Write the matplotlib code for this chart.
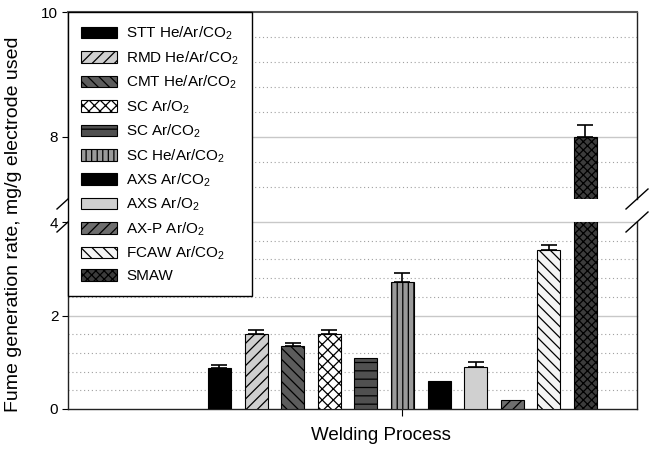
import numpy as np
import matplotlib
matplotlib.use("Agg")
import matplotlib.pyplot as plt
from matplotlib.lines import Line2D

plt.rcParams['font.family'] = ['Liberation Sans', 'DejaVu Sans']
plt.rcParams['mathtext.fontset'] = 'custom'
plt.rcParams['mathtext.rm'] = 'Liberation Sans'
plt.rcParams['mathtext.it'] = 'Liberation Sans:italic'
plt.rcParams['hatch.linewidth'] = 0.9

categories = ["STT He/Ar/CO$_2$", "RMD He/Ar/CO$_2$", "CMT He/Ar/CO$_2$", "SC Ar/O$_2$",
              "SC Ar/CO$_2$", "SC He/Ar/CO$_2$", "AXS Ar/CO$_2$", "AXS Ar/O$_2$",
              "AX-P Ar/O$_2$", "FCAW Ar/CO$_2$", "SMAW"]
values = [0.87, 1.60, 1.35, 1.60, 1.10, 2.71, 0.60, 0.90, 0.20, 3.41, 8.00]
errors = [0.07, 0.10, 0.07, 0.10, 0.0, 0.20, 0.0, 0.11, 0.0, 0.10, 0.19]

colors = ['#000000', '#cfcfcf', '#5c5c5c', '#ffffff', '#505050', '#9a9a9a',
          '#000000', '#d0d0d0', '#6e6e6e', '#f4f4f4', '#3c3c3c']
hatches = [None, '///', '\\\\\\', 'xxx', '--', '|||', None, None, '///', '\\\\\\', 'xxxx']

W, H = 653, 449
fig = plt.figure(figsize=(W / 100, H / 100), dpi=100)

def px(x0, y0, x1, y1):
    return [x0 / W, 1 - y1 / H, (x1 - x0) / W, (y1 - y0) / H]

ax_top = fig.add_axes(px(68, 12, 637, 199))
ax_bot = fig.add_axes(px(68, 222, 637, 409))

x = np.arange(len(values))
width = 0.63
xlim = (-4.14, 11.41)

handles = []
for ax in (ax_top, ax_bot):
    bars = ax.bar(x, values, width=width, color=colors, edgecolor='black',
                  linewidth=0.8, zorder=3)
    for b, h in zip(bars, hatches):
        if h:
            b.set_hatch(h)
    handles = bars
    idx = [i for i, e in enumerate(errors) if e > 0]
    ax.errorbar(x[idx], np.array(values)[idx],
                yerr=[np.zeros(len(idx)), np.array(errors)[idx]],
                fmt='none', ecolor='black', elinewidth=1.2, capsize=5.5,
                capthick=1.2, zorder=4)
    ax.set_xlim(*xlim)
    for s in ax.spines.values():
        s.set_color('#222222')
        s.set_linewidth(1.0)

# Upper axis
ax_top.set_ylim(7, 10)
ax_top.set_yticks([8, 10])
ax_top.spines['bottom'].set_visible(False)
ax_top.spines['top'].set_color('#555555')
ax_top.spines['top'].set_linewidth(1.5)
ax_top.tick_params(axis='x', bottom=False, labelbottom=False)
for v in [8]:
    ax_top.axhline(v, color='#c8c8c8', lw=1.0, zorder=1)
for v in [7.2, 7.6, 8.4, 8.8, 9.2, 9.6]:
    ax_top.axhline(v, color='#a0a0a0', lw=0.8, ls=(0, (1, 2.5)), zorder=1)

# Lower axis
ax_bot.set_ylim(0, 4)
ax_bot.set_yticks([0, 2, 4])
ax_bot.spines['top'].set_visible(False)
ax_bot.set_xticks([5])
ax_bot.set_xticklabels([''])
for v in [2, 4]:
    ax_bot.axhline(v, color='#c8c8c8', lw=1.0, zorder=1, clip_on=False)
for v in [0.4, 0.8, 1.2, 1.6, 2.4, 2.8, 3.2, 3.6]:
    ax_bot.axhline(v, color='#a0a0a0', lw=0.8, ls=(0, (1, 2.5)), zorder=1)

for ax in (ax_top, ax_bot):
    ax.tick_params(axis='y', direction='out', length=4, width=0.8, labelsize=11, pad=3)
    ax.tick_params(axis='x', direction='out', length=5, width=0.8)

# Break marks
for (cx, cy) in [(68, 199), (68, 222), (637, 199), (637, 222)]:
    xs = [(cx - 11) / W, (cx + 11) / W]
    ys = [1 - (cy + 10) / H, 1 - (cy - 10) / H]
    fig.add_artist(Line2D(xs, ys, color='black', lw=1.0, zorder=6))

# Legend
leg = fig.legend(handles, categories, loc='upper left',
                 bbox_to_anchor=(68 / W, 1 - 12 / H), borderaxespad=0,
                 fontsize=11, frameon=True, fancybox=False, framealpha=1,
                 edgecolor='black', handlelength=2.35, handleheight=0.78,
                 handletextpad=0.6, labelspacing=0.46, borderpad=0.85)
leg.get_frame().set_linewidth(1.0)
leg.set_zorder(10)

fig.text(14 / W, 0.5, 'Fume generation rate, mg/g electrode used', rotation=90,
         va='center', ha='center', fontsize=14)
fig.text(381 / W, 1 - 436 / H, 'Welding Process', ha='center', va='center', fontsize=13.5)

fig.savefig('out.png', dpi=100)
